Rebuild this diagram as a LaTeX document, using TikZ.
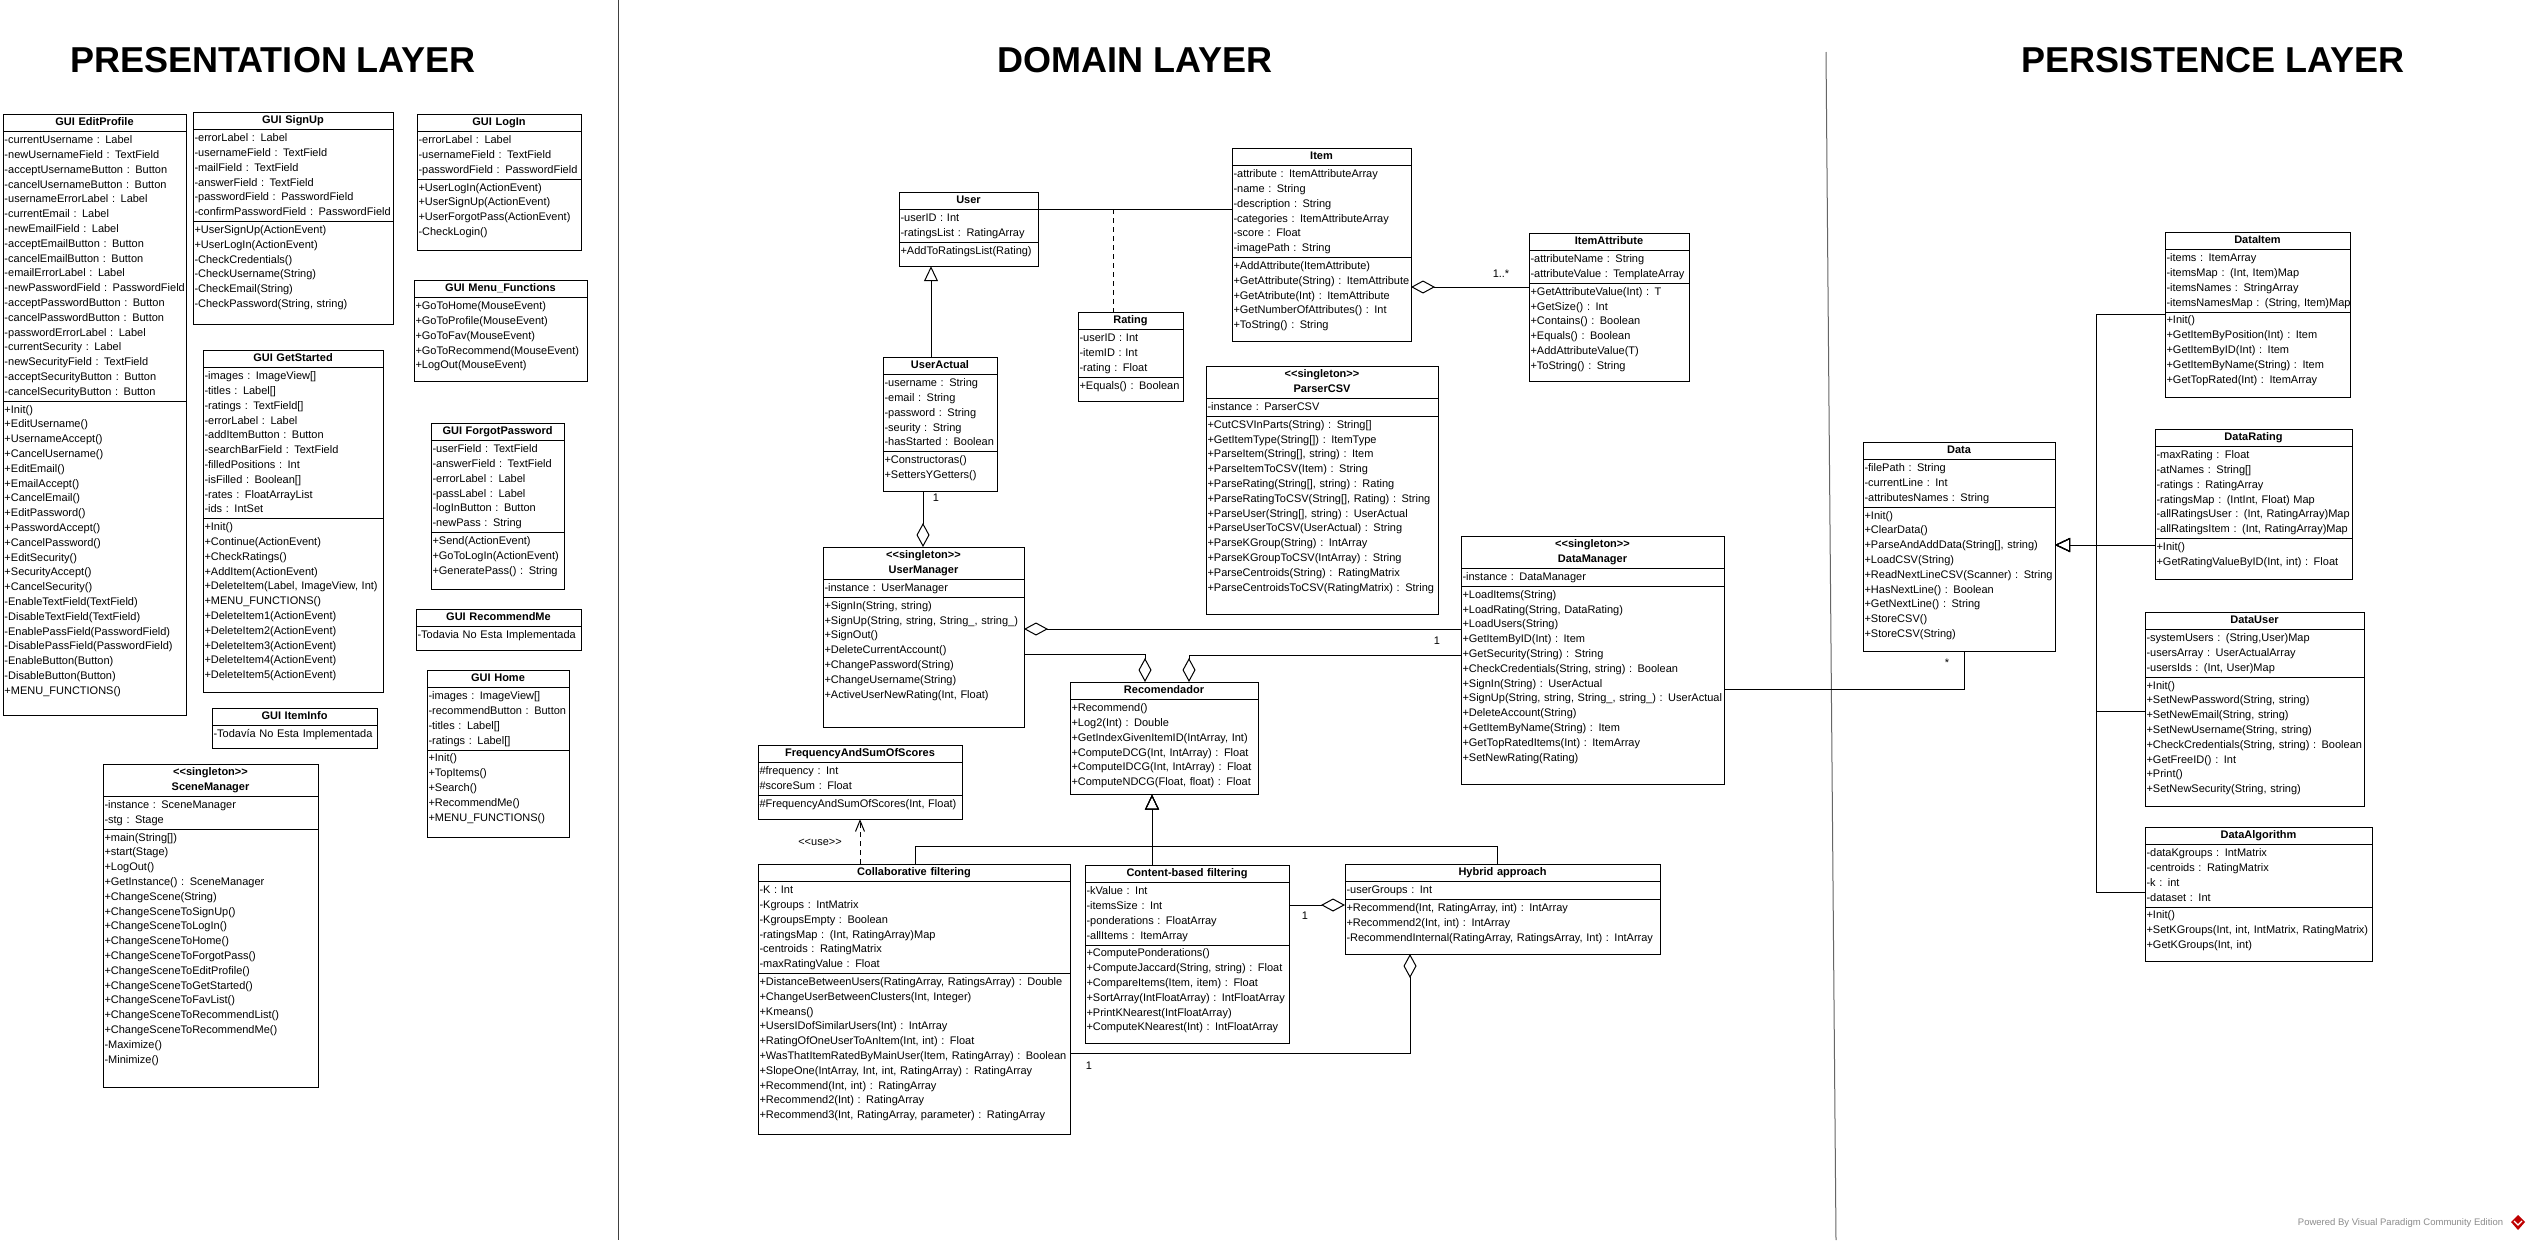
\documentclass[tikz,border=0pt]{standalone}
\usepackage{fontspec}
\setmainfont{Liberation Sans}[Ligatures=TeXOff]
\usetikzlibrary{shapes.multipart,arrows.meta}
\newcommand{\umlfont}{\fontsize{11}{14.8}\selectfont}
\newcommand{\ctitle}[1]{\hbox to\hsize{\hss\bfseries\begin{tabular}{@{}c@{}}#1\end{tabular}\hss}}
\newcommand{\members}[2][0pt]{\begin{tabular}{@{}l@{}}#2\\[#1]\end{tabular}}
\tikzstyle{umlclass}=[rectangle split, rectangle split parts=3, draw=black, anchor=north west, inner xsep=1.5pt, inner ysep=1pt, outer sep=0pt, font=\umlfont]
\tikzstyle{umlclasstwo}=[umlclass, rectangle split parts=2]
\tikzstyle{aggregation}=[-{Diamond[open,length=24pt,width=13pt]}]
\tikzstyle{generalization}=[-{Triangle[open,length=15pt,width=14pt]}]
\tikzstyle{dependency}=[dash pattern=on 5pt off 4pt, -{Straight Barb[length=11pt,width=9pt]}]
\tikzstyle{layertitle}=[font=\fontsize{36}{40}\selectfont\bfseries]
\tikzstyle{mult}=[font=\umlfont, inner sep=0pt]

\begin{document}
\begin{tikzpicture}[x=1pt, y=-1pt, line width=1pt]
	\useasboundingbox (0,0) rectangle (2530,1240);
	\fill[white] (0,0) rectangle (2530,1240);
	\node[layertitle] (presentation) at (273,60) {PRESENTATION LAYER};
	\node[layertitle] (domain) at (1135,60) {DOMAIN LAYER};
	\node[layertitle] (persistence) at (2213,60) {PERSISTENCE LAYER};
	\draw[black!75] (618,0) -- (618,1240);
	\draw[black!60] (1826,52) -- (1836,1240);

	\node[umlclass, text width=180pt] (editprofile) at (3,114) {\ctitle{GUI EditProfile}
		\nodepart{two}\members{-currentUsername : Label\\ -newUsernameField : TextField\\ -acceptUsernameButton : Button\\ -cancelUsernameButton : Button\\ -usernameErrorLabel : Label\\ -currentEmail : Label\\ -newEmailField : Label\\ -acceptEmailButton : Button\\ -cancelEmailButton : Button\\ -emailErrorLabel : Label\\ -newPasswordField : PasswordField\\ -acceptPasswordButton : Button\\ -cancelPasswordButton : Button\\ -passwordErrorLabel : Label\\ -currentSecurity : Label\\ -newSecurityField : TextField\\ -acceptSecurityButton : Button\\ -cancelSecurityButton : Button}
		\nodepart{three}\members[15pt]{+Init()\\ +EditUsername()\\ +UsernameAccept()\\ +CancelUsername()\\ +EditEmail()\\ +EmailAccept()\\ +CancelEmail()\\ +EditPassword()\\ +PasswordAccept()\\ +CancelPassword()\\ +EditSecurity()\\ +SecurityAccept()\\ +CancelSecurity()\\ -EnableTextField(TextField)\\ -DisableTextField(TextField)\\ -EnablePassField(PasswordField)\\ -DisablePassField(PasswordField)\\ -EnableButton(Button)\\ -DisableButton(Button)\\ +MENU\_FUNCTIONS()}};
	\node[umlclass, text width=197pt] (signup) at (193,112) {\ctitle{GUI SignUp}
		\nodepart{two}\members{-errorLabel : Label\\ -usernameField : TextField\\ -mailField : TextField\\ -answerField : TextField\\ -passwordField : PasswordField\\ -confirmPasswordField : PasswordField}
		\nodepart{three}\members[11pt]{+UserSignUp(ActionEvent)\\ +UserLogIn(ActionEvent)\\ -CheckCredentials()\\ -CheckUsername(String)\\ -CheckEmail(String)\\ -CheckPassword(String, string)}};
	\node[umlclass, text width=161pt] (login) at (417,114) {\ctitle{GUI LogIn}
		\nodepart{two}\members{-errorLabel : Label\\ -usernameField : TextField\\ -passwordField : PasswordField}
		\nodepart{three}\members[9pt]{+UserLogIn(ActionEvent)\\ +UserSignUp(ActionEvent)\\ +UserForgotPass(ActionEvent)\\ -CheckLogin()}};
	\node[umlclasstwo, text width=170pt] (menufunctions) at (414,280) {\ctitle{GUI Menu\_Functions}
		\nodepart{two}\members[7pt]{+GoToHome(MouseEvent)\\ +GoToProfile(MouseEvent)\\ +GoToFav(MouseEvent)\\ +GoToRecommend(MouseEvent)\\ +LogOut(MouseEvent)}};
	\node[umlclass, text width=130pt] (forgotpass) at (431,423) {\ctitle{GUI ForgotPassword}
		\nodepart{two}\members{-userField : TextField\\ -answerField : TextField\\ -errorLabel : Label\\ -passLabel : Label\\ -logInButton : Button\\ -newPass : String}
		\nodepart{three}\members[9pt]{+Send(ActionEvent)\\ +GoToLogIn(ActionEvent)\\ +GeneratePass() : String}};
	\node[umlclasstwo, text width=162pt] (recommendme) at (416,609) {\ctitle{GUI RecommendMe}
		\nodepart{two}\members[6pt]{-Todavia No Esta Implementada}};
	\node[umlclass, text width=139pt] (home) at (427,670) {\ctitle{GUI Home}
		\nodepart{two}\members{-images : ImageView[]\\ -recommendButton : Button\\ -titles : Label[]\\ -ratings : Label[]}
		\nodepart{three}\members[10pt]{+Init()\\ +TopItems()\\ +Search()\\ +RecommendMe()\\ +MENU\_FUNCTIONS()}};
	\node[umlclass, text width=177pt] (getstarted) at (203,350) {\ctitle{GUI GetStarted}
		\nodepart{two}\members{-images : ImageView[]\\ -titles : Label[]\\ -ratings : TextField[]\\ -errorLabel : Label\\ -addItemButton : Button\\ -searchBarField : TextField\\ -filledPositions : Int\\ -isFilled : Boolean[]\\ -rates : FloatArrayList\\ -ids : IntSet}
		\nodepart{three}\members[8pt]{+Init()\\ +Continue(ActionEvent)\\ +CheckRatings()\\ +AddItem(ActionEvent)\\ +DeleteItem(Label, ImageView, Int)\\ +MENU\_FUNCTIONS()\\ +DeleteItem1(ActionEvent)\\ +DeleteItem2(ActionEvent)\\ +DeleteItem3(ActionEvent)\\ +DeleteItem4(ActionEvent)\\ +DeleteItem5(ActionEvent)}};
	\node[umlclasstwo, text width=162pt] (iteminfo) at (212,708) {\ctitle{GUI ItemInfo}
		\nodepart{two}\members[5pt]{-Todavía No Esta Implementada}};
	\node[umlclass, text width=212pt] (scenemanager) at (103,764) {\ctitle{<<singleton>>\\SceneManager}
		\nodepart{two}\members{-instance : SceneManager\\ -stg : Stage}
		\nodepart{three}\members[18pt]{+main(String[])\\ +start(Stage)\\ +LogOut()\\ +GetInstance() : SceneManager\\ +ChangeScene(String)\\ +ChangeSceneToSignUp()\\ +ChangeSceneToLogIn()\\ +ChangeSceneToHome()\\ +ChangeSceneToForgotPass()\\ +ChangeSceneToEditProfile()\\ +ChangeSceneToGetStarted()\\ +ChangeSceneToFavList()\\ +ChangeSceneToRecommendList()\\ +ChangeSceneToRecommendMe()\\ -Maximize()\\ -Minimize()}};

	\node[umlclass, text width=136pt] (user) at (899,192) {\ctitle{User}
		\nodepart{two}\members{-userID : Int\\ -ratingsList : RatingArray}
		\nodepart{three}\members[6pt]{+AddToRatingsList(Rating)}};
	\node[umlclass, text width=176pt] (item) at (1232,148) {\ctitle{Item}
		\nodepart{two}\members{-attribute : ItemAttributeArray\\ -name : String\\ -description : String\\ -categories : ItemAttributeArray\\ -score : Float\\ -imagePath : String}
		\nodepart{three}\members[7pt]{+AddAttribute(ItemAttribute)\\ +GetAttribute(String) : ItemAttribute\\ +GetAtribute(Int) : ItemAttribute\\ +GetNumberOfAttributes() : Int\\ +ToString() : String}};
	\node[umlclass, text width=157pt] (itemattribute) at (1529,233) {\ctitle{ItemAttribute}
		\nodepart{two}\members{-attributeName : String\\ -attributeValue : TemplateArray}
		\nodepart{three}\members[6pt]{+GetAttributeValue(Int) : T\\ +GetSize() : Int\\ +Contains() : Boolean\\ +Equals() : Boolean\\ +AddAttributeValue(T)\\ +ToString() : String}};
	\node[umlclass, text width=102pt] (rating) at (1078,312) {\ctitle{Rating}
		\nodepart{two}\members{-userID : Int\\ -itemID : Int\\ -rating : Float}
		\nodepart{three}\members[6pt]{+Equals() : Boolean}};
	\node[umlclass, text width=111pt] (useractual) at (883,357) {\ctitle{UserActual}
		\nodepart{two}\members{-username : String\\ -email : String\\ -password : String\\ -seurity : String\\ -hasStarted : Boolean}
		\nodepart{three}\members[7pt]{+Constructoras()\\ +SettersYGetters()}};
	\node[umlclass, text width=229pt] (parsercsv) at (1206,366) {\ctitle{<<singleton>>\\ParserCSV}
		\nodepart{two}\members{-instance : ParserCSV}
		\nodepart{three}\members[17pt]{+CutCSVInParts(String) : String[]\\ +GetItemType(String[]) : ItemType\\ +ParseItem(String[], string) : Item\\ +ParseItemToCSV(Item) : String\\ +ParseRating(String[], string) : Rating\\ +ParseRatingToCSV(String[], Rating) : String\\ +ParseUser(String[], string) : UserActual\\ +ParseUserToCSV(UserActual) : String\\ +ParseKGroup(String) : IntArray\\ +ParseKGroupToCSV(IntArray) : String\\ +ParseCentroids(String) : RatingMatrix\\ +ParseCentroidsToCSV(RatingMatrix) : String}};
	\node[umlclass, text width=198pt] (usermanager) at (823,547) {\ctitle{<<singleton>>\\UserManager}
		\nodepart{two}\members{-instance : UserManager}
		\nodepart{three}\members[23pt]{+SignIn(String, string)\\ +SignUp(String, string, String\_, string\_)\\ +SignOut()\\ +DeleteCurrentAccount()\\ +ChangePassword(String)\\ +ChangeUsername(String)\\ +ActiveUserNewRating(Int, Float)}};
	\node[umlclass, text width=260pt] (datamanager) at (1461,536) {\ctitle{<<singleton>>\\DataManager}
		\nodepart{two}\members{-instance : DataManager}
		\nodepart{three}\members[17pt]{+LoadItems(String)\\ +LoadRating(String, DataRating)\\ +LoadUsers(String)\\ +GetItemByID(Int) : Item\\ +GetSecurity(String) : String\\ +CheckCredentials(String, string) : Boolean\\ +SignIn(String) : UserActual\\ +SignUp(String, string, String\_, string\_) : UserActual\\ +DeleteAccount(String)\\ +GetItemByName(String) : Item\\ +GetTopRatedItems(Int) : ItemArray\\ +SetNewRating(Rating)}};
	\node[umlclasstwo, text width=185pt] (recomendador) at (1070,682) {\ctitle{Recomendador}
		\nodepart{two}\members[3pt]{+Recommend()\\ +Log2(Int) : Double\\ +GetIndexGivenItemID(IntArray, Int)\\ +ComputeDCG(Int, IntArray) : Float\\ +ComputeIDCG(Int, IntArray) : Float\\ +ComputeNDCG(Float, float) : Float}};
	\node[umlclass, text width=201pt] (freqsum) at (758,745) {\ctitle{FrequencyAndSumOfScores}
		\nodepart{two}\members{\#frequency : Int\\ \#scoreSum : Float}
		\nodepart{three}\members[6pt]{\#FrequencyAndSumOfScores(Int, Float)}};
	\node[umlclass, text width=309pt] (collab) at (758,864) {\ctitle{Collaborative filtering}
		\nodepart{two}\members{-K : Int\\ -Kgroups : IntMatrix\\ -KgroupsEmpty : Boolean\\ -ratingsMap : (Int, RatingArray)Map\\ -centroids : RatingMatrix\\ -maxRatingValue : Float}
		\nodepart{three}\members[10pt]{+DistanceBetweenUsers(RatingArray, RatingsArray) : Double\\ +ChangeUserBetweenClusters(Int, Integer)\\ +Kmeans()\\ +UsersIDofSimilarUsers(Int) : IntArray\\ +RatingOfOneUserToAnItem(Int, int) : Float\\ +WasThatItemRatedByMainUser(Item, RatingArray) : Boolean\\ +SlopeOne(IntArray, Int, int, RatingArray) : RatingArray\\ +Recommend(Int, int) : RatingArray\\ +Recommend2(Int) : RatingArray\\ +Recommend3(Int, RatingArray, parameter) : RatingArray}};
	\node[umlclass, text width=201pt] (contentbased) at (1085,865) {\ctitle{Content-based filtering}
		\nodepart{two}\members{-kValue : Int\\ -itemsSize : Int\\ -ponderations : FloatArray\\ -allItems : ItemArray}
		\nodepart{three}\members[7pt]{+ComputePonderations()\\ +ComputeJaccard(String, string) : Float\\ +CompareItems(Item, item) : Float\\ +SortArray(IntFloatArray) : IntFloatArray\\ +PrintKNearest(IntFloatArray)\\ +ComputeKNearest(Int) : IntFloatArray}};
	\node[umlclass, text width=312pt] (hybrid) at (1345,864) {\ctitle{Hybrid approach}
		\nodepart{two}\members{-userGroups : Int}
		\nodepart{three}\members[7pt]{+Recommend(Int, RatingArray, int) : IntArray\\ +Recommend2(Int, int) : IntArray\\ -RecommendInternal(RatingArray, RatingsArray, Int) : IntArray}};

	\node[umlclass, text width=189pt] (data) at (1863,442) {\ctitle{Data}
		\nodepart{two}\members{-filePath : String\\ -currentLine : Int\\ -attributesNames : String}
		\nodepart{three}\members[8pt]{+Init()\\ +ClearData()\\ +ParseAndAddData(String[], string)\\ +LoadCSV(String)\\ +ReadNextLineCSV(Scanner) : String\\ +HasNextLine() : Boolean\\ +GetNextLine() : String\\ +StoreCSV()\\ +StoreCSV(String)}};
	\node[umlclass, text width=182pt] (dataitem) at (2165,232) {\ctitle{DataItem}
		\nodepart{two}\members{-items : ItemArray\\ -itemsMap : (Int, Item)Map\\ -itemsNames : StringArray\\ -itemsNamesMap : (String, Item)Map}
		\nodepart{three}\members[8pt]{+Init()\\ +GetItemByPosition(Int) : Item\\ +GetItemByID(Int) : Item\\ +GetItemByName(String) : Item\\ +GetTopRated(Int) : ItemArray}};
	\node[umlclass, text width=194pt] (datarating) at (2155,429) {\ctitle{DataRating}
		\nodepart{two}\members{-maxRating : Float\\ -atNames : String[]\\ -ratings : RatingArray\\ -ratingsMap : (IntInt, Float) Map\\ -allRatingsUser : (Int, RatingArray)Map\\ -allRatingsItem : (Int, RatingArray)Map}
		\nodepart{three}\members[8pt]{+Init()\\ +GetRatingValueByID(Int, int) : Float}};
	\node[umlclass, text width=216pt] (datauser) at (2145,612) {\ctitle{DataUser}
		\nodepart{two}\members{-systemUsers : (String,User)Map\\ -usersArray : UserActualArray\\ -usersIds : (Int, User)Map}
		\nodepart{three}\members[8pt]{+Init()\\ +SetNewPassword(String, string)\\ +SetNewEmail(String, string)\\ +SetNewUsername(String, string)\\ +CheckCredentials(String, string) : Boolean\\ +GetFreeID() : Int\\ +Print()\\ +SetNewSecurity(String, string)}};
	\node[umlclass, text width=224pt] (dataalgorithm) at (2145,827) {\ctitle{DataAlgorithm}
		\nodepart{two}\members{-dataKgroups : IntMatrix\\ -centroids : RatingMatrix\\ -k : int\\ -dataset : Int}
		\nodepart{three}\members[7pt]{+Init()\\ +SetKGroups(Int, int, IntMatrix, RatingMatrix)\\ +GetKGroups(Int, int)}};

	\draw (user.east |- 0,209) -- (item.west |- 0,209);
	\coordinate (ratinglink) at (1113,209);
	\draw[dash pattern=on 5pt off 4pt] (ratinglink) -- (ratinglink |- rating.north);
	\draw[generalization] (useractual.north -| 931,0) -- (user.south -| 931,0);
	\draw[aggregation] (useractual.south -| 923,0) -- (usermanager.north -| 923,0);
	\node[mult] (m1) at (936,498) {1};
	\draw[aggregation] (datamanager.west |- 0,629) -- (usermanager.east |- 0,629);
	\node[mult] (m2) at (1437,641) {1};
	\draw[aggregation] (usermanager.east |- 0,654) -| (recomendador.north -| 1145,0);
	\draw[aggregation] (datamanager.west |- 0,655) -| (recomendador.north -| 1189,0);
	\draw[aggregation] (itemattribute.west |- 0,287) -- (item.east |- 0,287);
	\node[mult] (m3) at (1501,274) {1..*};
	\coordinate (recbus) at (1152,846);
	\draw[generalization] (collab.north -| 915,0) |- (recbus) -- (recbus |- recomendador.south);
	\draw[generalization] (recbus |- contentbased.north) -- (recbus |- recomendador.south);
	\draw[generalization] (hybrid.north -| 1497,0) |- (recbus) -- (recbus |- recomendador.south);
	\draw[dependency] (collab.north -| 860,0) -- (freqsum.south -| 860,0);
	\node[mult] (use) at (820,842) {<<use>>};
	\draw[aggregation] (contentbased.east |- 0,905) -- (hybrid.west |- 0,905);
	\node[mult] (m4) at (1305,916) {1};
	\draw[aggregation] (collab.east |- 0,1053) -| (hybrid.south -| 1410,0);
	\node[mult] (m5) at (1089,1066) {1};
	\draw (datamanager.east |- 0,689) -| (data.south -| 1964,0);
	\node[mult] (m6) at (1947,663) {*};

	\coordinate (databus) at (2096,545);
	\draw[generalization] (dataitem.west |- 0,314) -| (databus) -- (databus -| data.east);
	\draw[generalization] (datarating.west |- databus) -- (databus -| data.east);
	\draw[generalization] (datauser.west |- 0,711) -| (databus) -- (databus -| data.east);
	\draw[generalization] (dataalgorithm.west |- 0,892) -| (databus) -- (databus -| data.east);

	\node[anchor=east, text=black!45, font=\fontsize{9.5}{11}\selectfont] (powered) at (2507,1223) {Powered By Visual Paradigm Community Edition};
	\fill[red!75!black] (2518,1215) -- (2525,1222) -- (2518,1230) -- (2511,1222) -- cycle;
	\draw[white, line width=1.2pt] (2514,1221) -- (2518,1225) -- (2522,1221);
\end{tikzpicture}
\end{document}
